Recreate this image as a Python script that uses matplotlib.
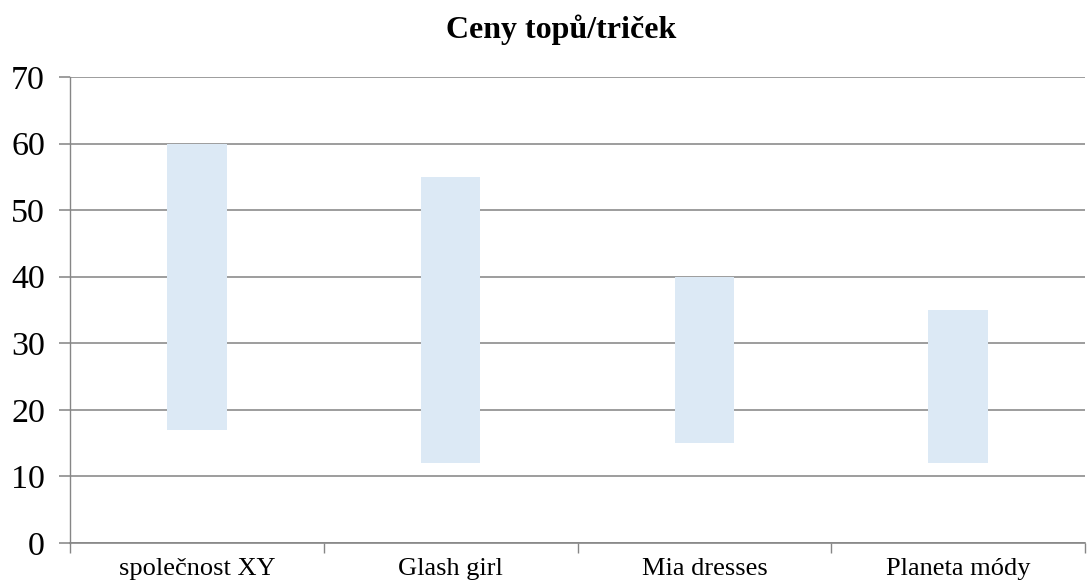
import matplotlib.pyplot as plt
import numpy as np

categories = ["společnost XY", "Glash girl", "Mia dresses", "Planeta módy"]
price_min = [17, 12, 15, 12]
price_max = [60, 55, 40, 35]

plt.rcParams["font.family"] = ["Liberation Serif", "DejaVu Serif"]

fig = plt.figure(figsize=(10.9, 5.87), dpi=100)
ax = fig.add_axes([70 / 1090, 1 - 543 / 587, (1085 - 70) / 1090, (543 - 77) / 587])

x = np.arange(len(categories))
lo = np.array(price_min)
hi = np.array(price_max)
ax.bar(x, hi - lo, bottom=lo, width=0.235, color="#dce9f5", zorder=3)

ax.set_xlim(-0.5, len(categories) - 0.5)
ax.set_ylim(0, 70)
ax.set_yticks(range(0, 71, 10))
ax.yaxis.grid(True, color="#8c8c8c", linewidth=1.2, zorder=0)
ax.set_axisbelow(True)

ax.set_xticks(x)
ax.set_xticklabels(categories, fontsize=19)
ax.set_xticks(np.arange(len(categories) + 1) - 0.5, minor=True)
ax.tick_params(axis="x", which="major", length=0, pad=11)
ax.tick_params(axis="x", which="minor", length=7, color="#868686", width=1)
ax.tick_params(axis="y", labelsize=24.5, length=8, color="#8c8c8c", width=1.2, pad=10)

for side in ("top", "right"):
    ax.spines[side].set_visible(False)
ax.spines["left"].set_color("#868686")
ax.spines["bottom"].set_color("#868686")
ax.spines["left"].set_linewidth(1)
ax.spines["bottom"].set_linewidth(1.2)

fig.text(561 / 1090, 1 - 30 / 587, "Ceny topů/triček", ha="center", va="center",
         fontsize=23, fontweight="bold")

fig.savefig("out.png", dpi=100)
